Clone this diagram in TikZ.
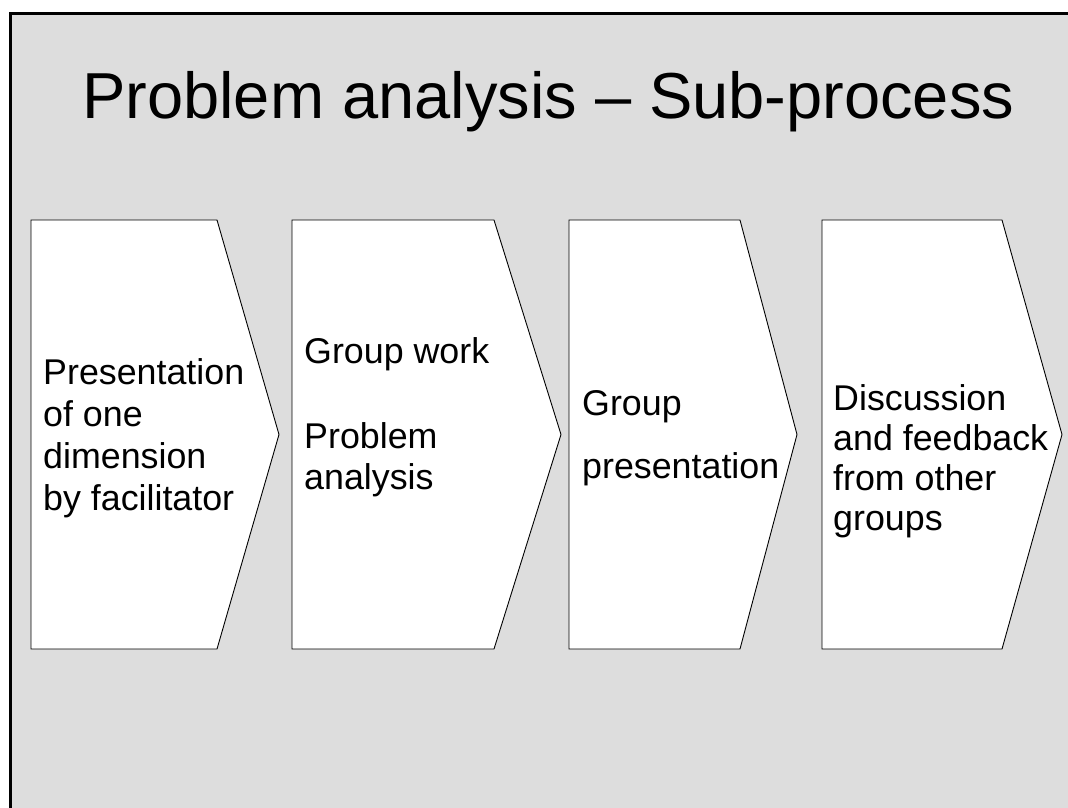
\documentclass[tikz,border=0pt]{standalone}
\usepackage{fontspec}
\setmainfont{Liberation Sans}
\definecolor{slidebg}{HTML}{DDDDDD}
\begin{document}
\begin{tikzpicture}[x=1pt,y=-1pt,
  chev/.style={draw=black, line width=0.9pt, fill=white, line join=miter},
  body/.style={anchor=base west, inner sep=0pt, font=\fontsize{35.8}{42}\selectfont},
  ttl/.style={anchor=base west, inner sep=0pt, font=\fontsize{65}{76}\selectfont}]
\useasboundingbox (0,0) rectangle (1068,807);
\fill[white] (0,0) rectangle (1068,807);
\draw[fill=slidebg, line width=3pt] (10.5,13.8) rectangle (1090,830);
\node[ttl] (title) at (82,118) {Problem analysis – Sub-process};
% chevrons
\draw[chev] (31,220) -- (217,220) -- (279,434.5) -- (217,649) -- (31,649) -- cycle;
\draw[chev] (292,220) -- (494,220) -- (561,434.5) -- (494,649) -- (292,649) -- cycle;
\draw[chev] (569,220) -- (740,220) -- (797,434.5) -- (740,649) -- (569,649) -- cycle;
\draw[chev] (822,220) -- (1002,220) -- (1062,434.5) -- (1002,649) -- (822,649) -- cycle;
% texts
\node[body] (a1) at (43,384) {Presentation};
\node[body] (a2) at (43,426) {of one};
\node[body] (a3) at (43,468) {dimension};
\node[body] (a4) at (43,510) {by facilitator};
\node[body] (b1) at (304,363) {Group work};
\node[body] (b2) at (304,448) {Problem};
\node[body] (b3) at (304,489) {analysis};
\node[body] (c1) at (582,415) {Group};
\node[body] (c2) at (582,478) {presentation};
\node[body] (d1) at (833,410) {Discussion};
\node[body] (d2) at (833,450) {and feedback};
\node[body] (d3) at (833,490) {from other};
\node[body] (d4) at (833,530) {groups};
\end{tikzpicture}
\end{document}
